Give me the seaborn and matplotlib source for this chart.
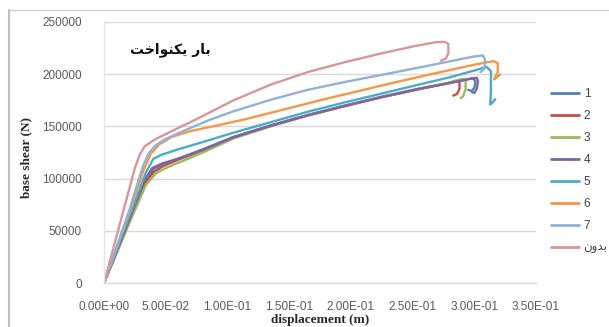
import matplotlib
matplotlib.use("Agg")
import matplotlib.pyplot as plt
from matplotlib.lines import Line2D
import seaborn as sns
import pandas as pd

# ---- data ----
labels = ["1", "2", "3", "4", "5", "6", "7", "\uFEE5\uFEED\uFEAA\uFE91"]  # last: "بدون"
colors = ["#4F81BD", "#C0504D", "#9BBB59", "#8064A2", "#4BACC6", "#F79646", "#8FB1DA", "#D8969B"]

x1 = [0, 0.02, 0.034, 0.040, 0.048, 0.060, 0.080, 0.105, 0.135, 0.165, 0.195, 0.225, 0.255, 0.280, 0.294, 0.299, 0.301, 0.300, 0.298, 0.295]
y1 = [0, 58000, 98000, 109000, 114000, 119000, 128000, 140000, 151000, 161000, 170000, 178500, 186000, 191500, 195000, 196000, 193000, 187000, 184000, 185000]

x2 = [0, 0.02, 0.033, 0.040, 0.048, 0.060, 0.080, 0.105, 0.135, 0.165, 0.195, 0.225, 0.255, 0.275, 0.285, 0.288, 0.288, 0.286, 0.283]
y2 = [0, 57000, 95000, 106000, 112000, 118000, 127000, 139500, 150500, 160500, 169500, 178000, 185500, 190500, 193500, 193000, 186000, 181000, 179500]

x3 = [0, 0.02, 0.034, 0.042, 0.050, 0.062, 0.080, 0.105, 0.135, 0.165, 0.195, 0.225, 0.255, 0.280, 0.290, 0.293, 0.293, 0.291, 0.289]
y3 = [0, 56000, 94000, 105000, 110000, 116000, 125000, 138500, 150000, 160500, 169500, 178000, 186000, 192000, 195500, 194500, 186000, 179000, 177000]

x4 = [0, 0.02, 0.033, 0.039, 0.047, 0.060, 0.080, 0.105, 0.135, 0.165, 0.195, 0.225, 0.255, 0.280, 0.296, 0.302, 0.303, 0.302, 0.300, 0.298]
y4 = [0, 59000, 99000, 110000, 114500, 119000, 127500, 139500, 150500, 160500, 169500, 178000, 186000, 191500, 195500, 196500, 193000, 186000, 182000, 183000]

x5 = [0, 0.02, 0.034, 0.040, 0.047, 0.060, 0.080, 0.105, 0.135, 0.165, 0.195, 0.225, 0.255, 0.280, 0.300, 0.310, 0.3135, 0.3135, 0.313, 0.314, 0.317]
y5 = [0, 62000, 106000, 119000, 123000, 128000, 135000, 144000, 154000, 164000, 173000, 181500, 190000, 197000, 203500, 207000, 203000, 185000, 171000, 172000, 176000]

x6 = [0, 0.02, 0.032, 0.038, 0.045, 0.055, 0.070, 0.090, 0.115, 0.145, 0.175, 0.205, 0.235, 0.265, 0.290, 0.308, 0.316, 0.319, 0.319, 0.317, 0.316, 0.318, 0.321]
y6 = [0, 66000, 108000, 124000, 133000, 140000, 145500, 150500, 157000, 166000, 175000, 183500, 192000, 200000, 206500, 211000, 212500, 210500, 202000, 197500, 195000, 197000, 199500]

x7 = [0, 0.02, 0.031, 0.036, 0.042, 0.050, 0.065, 0.085, 0.105, 0.135, 0.165, 0.195, 0.230, 0.260, 0.285, 0.300, 0.307, 0.309, 0.308, 0.305]
y7 = [0, 68000, 110000, 124000, 132000, 138000, 146000, 156000, 164500, 175500, 185000, 192500, 200500, 207500, 213500, 217000, 218000, 213000, 205000, 202000]

x8 = [0, 0.015, 0.025, 0.029, 0.033, 0.042, 0.055, 0.075, 0.105, 0.135, 0.165, 0.195, 0.225, 0.250, 0.268, 0.276, 0.279, 0.279, 0.277, 0.273]
y8 = [0, 66000, 110000, 123000, 131000, 138000, 145500, 157000, 175000, 190000, 202000, 211500, 220000, 226500, 230500, 231000, 229000, 220000, 215000, 213000]

xs = [x1, x2, x3, x4, x5, x6, x7, x8]
ys = [y1, y2, y3, y4, y5, y6, y7, y8]

x_ticks = [0, 0.05, 0.10, 0.15, 0.20, 0.25, 0.30, 0.35]
x_tick_labels = ["0.00E+00", "5.00E-02", "1.00E-01", "1.50E-01", "2.00E-01", "2.50E-01", "3.00E-01", "3.50E-01"]
y_ticks = [0, 50000, 100000, 150000, 200000, 250000]

title_text = "\uFE96\uFEA7\uFE8D\uFEEE\uFEE8\uFB91\uFBFE \uFEAD\uFE8E\uFE91"  # "بار یکنواخت"

rows = []
for lab, xx, yy in zip(labels, xs, ys):
    for i, (a, b) in enumerate(zip(xx, yy)):
        rows.append({"series": lab, "order": i, "x": a, "y": b})
df = pd.DataFrame(rows)

# ---- figure ----
sns.set_style("white")
plt.rcParams['font.family'] = ['Liberation Sans', 'DejaVu Sans']

fig = plt.figure(figsize=(6.09, 3.27), dpi=100)
ax = fig.add_axes([104/609, 1-283/327, 432/609, 261/327])

sns.lineplot(data=df, x="x", y="y", hue="series", hue_order=labels,
             palette=colors, sort=False, estimator=None, units="series",
             linewidth=1.7, ax=ax, legend=False)

ax.set_xlim(0, 0.35)
ax.set_ylim(0, 250000)
ax.set_xticks(x_ticks)
ax.set_xticklabels(x_tick_labels)
ax.set_yticks(y_ticks)
ax.set_yticklabels([str(v) for v in y_ticks])
ax.tick_params(axis='both', length=0, labelsize=8.5, labelcolor="#595959")
ax.tick_params(axis='y', pad=16)
ax.tick_params(axis='x', pad=13)

ax.yaxis.grid(True, color="#D9D9D9", linewidth=1)
ax.xaxis.grid(False)
ax.set_axisbelow(True)
for s in ["top", "right"]:
    ax.spines[s].set_visible(False)
ax.spines["left"].set_color("#E4E4E4")
ax.spines["bottom"].set_color("#D9D9D9")
ax.spines["left"].set_linewidth(1)
ax.spines["bottom"].set_linewidth(1)

ax.set_xlabel("displacement (m)", fontsize=9.5, fontweight="bold",
              family=["Liberation Serif"])
ax.xaxis.set_label_coords(0.5, -0.118)
ax.set_ylabel("base shear (N)", fontsize=9.5, fontweight="bold",
              family=["Liberation Serif"])
ax.yaxis.set_label_coords(-0.165, 0.48)

ax.text(0.153, 0.893, title_text, transform=ax.transAxes, ha="center", va="center",
        fontsize=10, fontweight="bold", family=["DejaVu Sans"], color="#111111")

handles = [Line2D([0], [0], color=c, lw=2) for c in colors]
leg = fig.legend(handles, labels, loc="center left", bbox_to_anchor=(0.905, 0.477),
                 bbox_transform=fig.transFigure, frameon=False, fontsize=8.5,
                 handlelength=2.4, handletextpad=0.35, labelspacing=0.85,
                 borderpad=0, borderaxespad=0)
for t in leg.get_texts():
    t.set_color("#404040")

# outer chart frame
fig.add_artist(Line2D([9/609, 9/609], [0, 1-10/327], transform=fig.transFigure,
                      color="#BFBFBF", lw=1.5))
fig.add_artist(Line2D([9/609, 1], [1-10/327, 1-10/327], transform=fig.transFigure,
                      color="#D0D0D0", lw=1))

fig.savefig("out.png", dpi=100)
